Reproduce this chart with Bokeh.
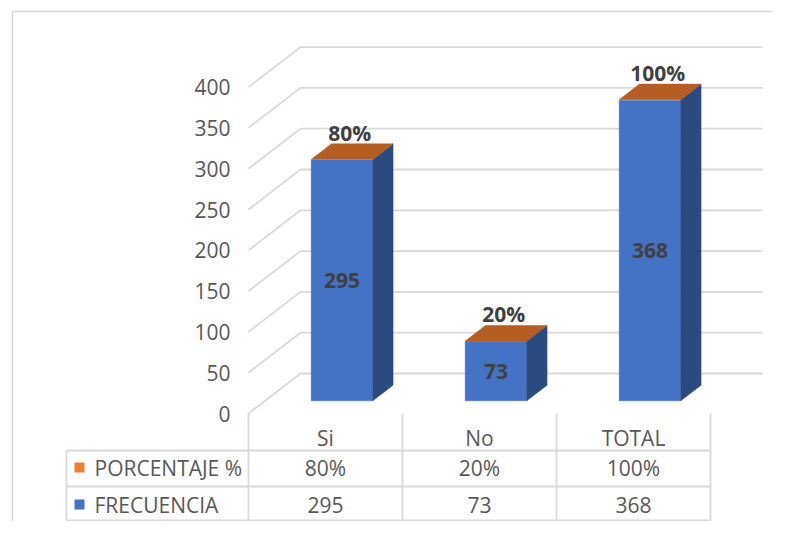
from bokeh.plotting import figure
from bokeh.models import Range1d
from bokeh.embed import file_html
from bokeh.resources import INLINE
from bokeh.core.properties import value

# ---- data ----
categories = ["Si", "No", "TOTAL"]
frecuencia = [295, 73, 368]
porcentaje = [0.80, 0.20, 1.00]
y_ticks = [0, 50, 100, 150, 200, 250, 300, 350, 400]
series_names = ["PORCENTAJE %", "FRECUENCIA"]
series_colors = ["#ED7D31", "#4472C4"]

# ---- layout ----
W, H = 772, 521
PX_X = 154.0      # px per category
PX_Y = 0.816      # px per value unit
X0 = 248.0        # px of front-plane left edge
Y0 = 413.0        # px of value 0 on front plane
DX = 52.0 / PX_X  # depth offset (x, category units)
DY = 40.0 / PX_Y  # depth offset (y, value units)
F0 = 0.317        # bar front position in depth
BD = 0.39         # bar depth fraction
BW = 0.40         # bar width (category units)

FONT = "Open Sans"
FS = "21px"
TXT = "#595959"
GRID = "#D9D9D9"

def px_x(px):
    return (px - X0) / PX_X

def px_y(py):
    return (Y0 - py) / PX_Y

p = figure(width=W, height=H, output_backend="svg", toolbar_location=None,
           x_range=Range1d(px_x(0), px_x(W)), y_range=Range1d(px_y(H), px_y(0)),
           min_border=0, min_border_left=0, min_border_right=0,
           min_border_top=0, min_border_bottom=0)
p.axis.visible = False
p.grid.visible = False
p.outline_line_color = None
p.background_fill_color = "white"
p.border_fill_color = "white"

# chart border (left + top visible)
bx, by = px_x(12), px_y(11)
p.line([bx, bx, px_x(W + 20)], [px_y(H + 20), by, by], line_color=GRID, line_width=1.5)

# gridlines: side wall diagonal + back wall
n = len(categories)
gx, gy = [], []
for v in y_ticks:
    gx.append([0, DX, n + DX])
    gy.append([v, v + DY, v + DY])
p.multi_line(gx, gy, line_color=GRID, line_width=1.8)

# y tick labels
p.text(x=[px_x(230)] * len(y_ticks), y=y_ticks, text=[str(v) for v in y_ticks],
       text_align="right", text_baseline="middle", text_font=value(FONT),
       text_font_size=FS, text_color=TXT)

# bars
for i, (f, pc) in enumerate(zip(frecuencia, porcentaje)):
    cx = i + 0.5 + F0 * DX
    xl, xr = cx - BW / 2, cx + BW / 2
    yb = F0 * DY
    yt = yb + f
    yp = yt + pc
    ddx, ddy = BD * DX, BD * DY
    # front face
    p.patch([xl, xr, xr, xl], [yb, yb, yt, yt], fill_color="#4472C4",
            line_color="#4472C4", line_width=0.5)
    # side face
    p.patch([xr, xr + ddx, xr + ddx, xr], [yb, yb + ddy, yp + ddy, yp],
            fill_color="#2B4A80", line_color="#2B4A80", line_width=0.5)
    # top face (porcentaje series stacked on top)
    p.patch([xl, xr, xr + ddx, xl + ddx], [yp, yp, yp + ddy, yp + ddy],
            fill_color="#B45E24", line_color="#B45E24", line_width=0.5)

# data labels
centers = [i + 0.5 + F0 * DX for i in range(n)]
bottoms = [F0 * DY] * n
p.text(x=centers, y=[b + f / 2 for b, f in zip(bottoms, frecuencia)],
       text=[str(f) for f in frecuencia], text_align="center", text_baseline="middle",
       text_font=value(FONT), text_font_size=FS, text_font_style="bold",
       text_color="#404040")
p.text(x=[c + 0.05 for c in centers],
       y=[b + f + pc + 33 for b, f, pc in zip(bottoms, frecuencia, porcentaje)],
       text=[f"{round(pc * 100)}%" for pc in porcentaje], text_align="center",
       text_baseline="middle", text_font=value(FONT), text_font_size=FS,
       text_font_style="bold", text_color="#404040")

# data table
y_cat = px_y(437)
y_r1 = px_y(467)
y_r2 = px_y(504)
t_top, t_mid, t_bot = px_y(450), px_y(486), px_y(520)
x_left = px_x(66)
lx = [[x_left, n], [x_left, n], [x_left, x_left]]
ly = [[t_top, t_top], [t_mid, t_mid], [t_top, t_bot]]
p.multi_line(lx, ly, line_color=GRID, line_width=1.8)
p.multi_line([[i, i] for i in range(n + 1)], [[0, t_bot] for _ in range(n + 1)],
             line_color=GRID, line_width=1.8)
p.line([x_left, n], [t_bot, t_bot], line_color=GRID, line_width=1.8)

mids = [i + 0.5 for i in range(n)]
p.text(x=mids, y=[y_cat] * n, text=categories, text_align="center",
       text_baseline="middle", text_font=value(FONT), text_font_size=FS,
       text_color=TXT)
p.text(x=mids, y=[y_r1] * n, text=[f"{round(pc * 100)}%" for pc in porcentaje],
       text_align="center", text_baseline="middle", text_font=value(FONT),
       text_font_size=FS, text_color=TXT)
p.text(x=mids, y=[y_r2] * n, text=[str(f) for f in frecuencia],
       text_align="center", text_baseline="middle", text_font=value(FONT),
       text_font_size=FS, text_color=TXT)

# legend keys in the table
p.rect(x=[px_x(79)] * 2, y=[y_r1, y_r2], width=10, height=10,
       width_units="screen", height_units="screen", fill_color=series_colors,
       line_color=None)
p.text(x=[px_x(94)] * 2, y=[y_r1, y_r2], text=series_names, text_align="left",
       text_baseline="middle", text_font=value(FONT), text_font_size=FS,
       text_color=TXT)

open("out.html", "w").write(file_html(p, INLINE))
